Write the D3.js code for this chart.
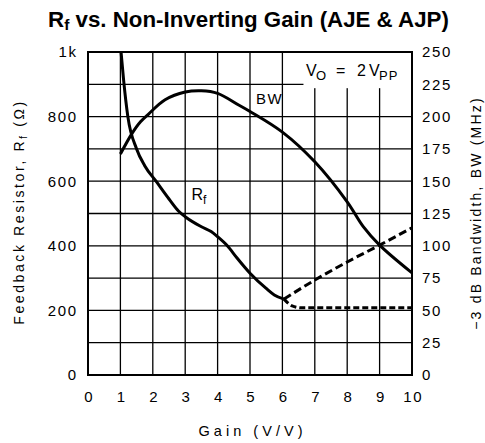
<!DOCTYPE html>
<html>
<head>
<meta charset="utf-8">
<script src="https://cdn.jsdelivr.net/npm/d3@7"></script>
<style>
  body { margin: 0; background: #fff; }
  text { fill: #000; }
</style>
</head>
<body>
<svg id="chart" width="485" height="443"></svg>
<script>
// ---- data ----
const gainTicks = [0, 1, 2, 3, 4, 5, 6, 7, 8, 9, 10];
const rfTicks = [0, 200, 400, 600, 800, 1000];
const rfTickLabels = ["0", "200", "400", "600", "800", "1k"];
const bwTicks = [0, 25, 50, 75, 100, 125, 150, 175, 200, 225, 250];

// feedback resistor (ohms) vs gain
const rfGain = [1.02, 1.1, 1.23, 1.5, 1.75, 2.1, 2.5, 2.8, 3.0, 3.5, 3.8, 4.0, 4.3, 4.6, 5.0, 5.5, 5.75, 6.05];
const rfOhms = [1000, 912, 800, 700, 648, 600, 545, 507, 490, 459, 444, 428, 400, 362, 315, 268, 248, 235];

// -3 dB bandwidth (MHz) vs gain
const bwGain = [1.0, 1.36, 1.62, 1.87, 2.38, 3.0, 3.5, 4.0, 4.65, 5.0, 6.0, 7.0, 8.0, 8.49, 9.0, 10.0];
const bwMHz = [171, 187, 196, 202, 213, 219, 220, 218, 209, 204, 188, 165, 134, 115, 100.5, 79];

// resistor continuations beyond gain 6
const rfRiseGain = [6.05, 7, 8, 9, 10];
const rfRiseOhms = [235, 294, 350, 402, 456];
const rfFlatGain = [6.05, 6.3, 6.6, 7, 8, 9, 10];
const rfFlatOhms = [235, 214, 208, 208, 208, 208, 208];

// ---- layout ----
const plot = { left: 88, right: 412, top: 52, bottom: 375 };

const svg = d3.select("#chart");

const x = d3.scaleLinear().domain([0, 10]).range([plot.left, plot.right]);
const yL = d3.scaleLinear().domain([0, 1000]).range([plot.bottom, plot.top]);
const yR = d3.scaleLinear().domain([0, 250]).range([plot.bottom, plot.top]);

const sans = "'Liberation Sans', Arial, sans-serif";

// grid
const grid = svg.append("g").attr("stroke", "#000").attr("stroke-width", 1.3);
grid.selectAll("line.v").data(d3.range(1, 10)).join("line")
  .attr("x1", d => x(d)).attr("x2", d => x(d))
  .attr("y1", plot.top).attr("y2", plot.bottom);
grid.selectAll("line.h").data(d3.range(100, 1000, 100)).join("line")
  .attr("x1", plot.left).attr("x2", plot.right)
  .attr("y1", d => yL(d)).attr("y2", d => yL(d));

// clear panel behind the output-level note
svg.append("rect")
  .attr("x", x(6.65)).attr("y", plot.top)
  .attr("width", plot.right - x(6.65)).attr("height", yL(888) - plot.top)
  .attr("fill", "#fff");

// frame
svg.append("rect")
  .attr("x", plot.left).attr("y", plot.top)
  .attr("width", plot.right - plot.left).attr("height", plot.bottom - plot.top)
  .attr("fill", "none").attr("stroke", "#000").attr("stroke-width", 2);

// axes (labels only; the grid serves as ticks)
const axL = d3.axisLeft(yL).tickValues(rfTicks).tickFormat((d, i) => rfTickLabels[i]).tickSize(0).tickPadding(12);
const axR = d3.axisRight(yR).tickValues(bwTicks).tickSize(0).tickPadding(10);
const axB = d3.axisBottom(x).tickValues(gainTicks).tickFormat(d3.format("d")).tickSize(0).tickPadding(16);

function styleAxis(g) {
  g.select(".domain").remove();
  g.selectAll("text")
    .attr("font-family", sans)
    .attr("font-size", 15)
    .attr("letter-spacing", 1.6)
    .attr("fill", "#000");
}
svg.append("g").attr("transform", `translate(${plot.left},0)`).call(axL).call(styleAxis)
  .selectAll("text").attr("dx", 1.6);
svg.append("g").attr("transform", `translate(${plot.right},0)`).call(axR).call(styleAxis);
svg.append("g").attr("transform", `translate(0,${plot.bottom})`).call(axB).call(styleAxis)
  .selectAll("text").attr("dx", 0.8);

// curves
svg.append("clipPath").attr("id", "plotClip").append("rect")
  .attr("x", plot.left).attr("y", plot.top)
  .attr("width", plot.right - plot.left).attr("height", plot.bottom - plot.top);

const curves = svg.append("g").attr("clip-path", "url(#plotClip)")
  .attr("fill", "none").attr("stroke", "#000").attr("stroke-width", 3);

const lineRf = d3.line().x(d => x(d[0])).y(d => yL(d[1])).curve(d3.curveMonotoneX);
const lineBw = d3.line().x(d => x(d[0])).y(d => yR(d[1])).curve(d3.curveCatmullRom.alpha(0.5));

curves.append("path").attr("d", lineRf(d3.zip(rfGain, rfOhms)));
curves.append("path").attr("d", lineBw(d3.zip(bwGain, bwMHz)));
curves.append("path").attr("d", lineRf(d3.zip(rfRiseGain, rfRiseOhms)))
  .attr("stroke-dasharray", "8,4");
curves.append("path").attr("d", lineRf(d3.zip(rfFlatGain, rfFlatOhms)))
  .attr("stroke-dasharray", "6,3");

// in-plot labels
svg.append("text").attr("x", 256).attr("y", 103.5)
  .attr("font-family", sans).attr("font-size", 15).attr("letter-spacing", 1.5)
  .text("BW");

const rfLab = svg.append("text").attr("x", 191.5).attr("y", 200)
  .attr("font-family", sans).attr("font-size", 16);
rfLab.append("tspan").text("R");
rfLab.append("tspan").attr("font-size", 12).attr("dy", 4).text("f");

const vo = svg.append("text").attr("y", 76)
  .attr("font-family", sans).attr("font-size", 16);
vo.append("tspan").attr("x", 306).text("V");
vo.append("tspan").attr("x", 316).attr("dy", 4).attr("font-size", 13).text("O");
vo.append("tspan").attr("x", 336).attr("dy", -4).text("=");
vo.append("tspan").attr("x", 357).text("2");
vo.append("tspan").attr("x", 369).text("V");
vo.append("tspan").attr("x", 379).attr("dy", 4).attr("font-size", 13).attr("letter-spacing", 1).text("PP");

// title
const title = svg.append("text").attr("x", 248.5).attr("y", 27)
  .attr("text-anchor", "middle")
  .attr("font-family", sans)
  .attr("font-weight", "bold").attr("font-size", 22.3);
title.append("tspan").text("R");
title.append("tspan").attr("font-size", 15.5).attr("dy", 3).text("f");
title.append("tspan").attr("dy", -3).text(" vs. Non-Inverting Gain (AJE & AJP)");

// axis titles
svg.append("text")
  .attr("x", 250.5).attr("y", 436)
  .attr("text-anchor", "middle")
  .attr("font-family", sans).attr("font-size", 14.5)
  .attr("textLength", 104).attr("lengthAdjust", "spacing")
  .text("Gain (V/V)");

const leftT = svg.append("text")
  .attr("transform", "translate(24,212) rotate(-90)")
  .attr("text-anchor", "middle")
  .attr("font-family", sans).attr("font-size", 14)
  .attr("letter-spacing", 2.6);
leftT.append("tspan").text("Feedback Resistor, R");
leftT.append("tspan").attr("font-size", 10.5).attr("dy", 3).text("f");
leftT.append("tspan").attr("dy", -3).text(" (\u03A9)");

svg.append("text")
  .attr("transform", "translate(481,213) rotate(-90)")
  .attr("text-anchor", "middle")
  .attr("font-family", sans).attr("font-size", 14)
  .attr("letter-spacing", 2.2)
  .text("\u22123 dB Bandwidth, BW (MHz)");
</script>
</body>
</html>
